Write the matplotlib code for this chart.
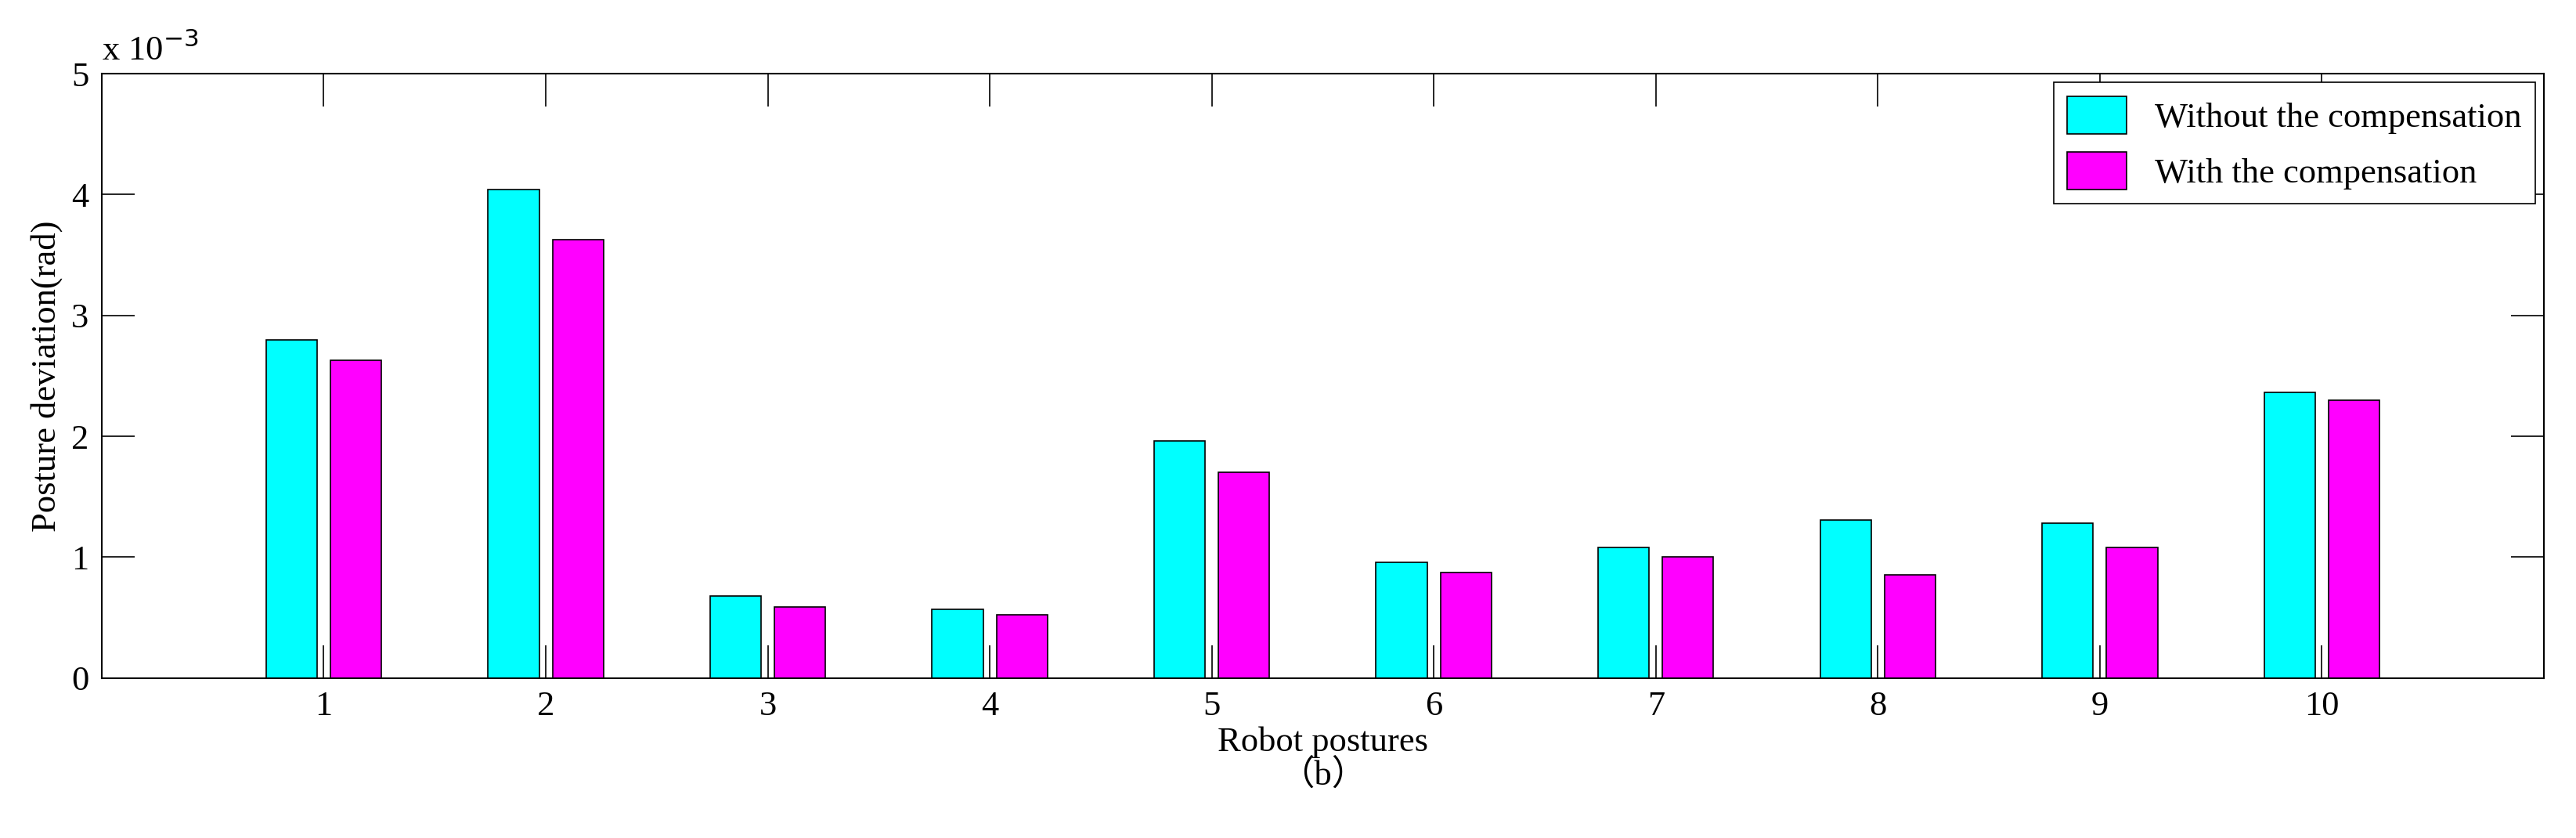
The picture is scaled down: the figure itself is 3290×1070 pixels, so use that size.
import matplotlib.pyplot as plt
import numpy as np

plt.rcParams['font.family'] = ['Liberation Serif', 'Noto Sans CJK SC', 'DejaVu Sans']

postures = np.arange(1, 11)
without_comp = np.array([2.80, 4.04, 0.68, 0.57, 1.96, 0.96, 1.08, 1.31, 1.28, 2.36])
with_comp = np.array([2.63, 3.63, 0.59, 0.52, 1.70, 0.87, 1.00, 0.85, 1.08, 2.30])

fig = plt.figure(figsize=(32.9, 10.7), dpi=100)
ax = fig.add_axes([0.0395, 0.191, 0.948, 0.721])

w = 0.23
ax.bar(postures - 0.145, without_comp, w, color="#00ffff", edgecolor="black", lw=1.2,
       label="Without the compensation")
ax.bar(postures + 0.145, with_comp, w, color="#ff00ff", edgecolor="black", lw=1.2,
       label="With the compensation")

ax.set_xlim(0, 11)
ax.set_ylim(0, 5)
ax.set_xticks(postures)
ax.set_yticks([0, 1, 2, 3, 4, 5])
ax.tick_params(direction="in", length=30, width=1.2, labelsize=32, top=True, right=True, pad=12)
for s in ax.spines.values():
    s.set_linewidth(1.5)

ax.set_xlabel("Robot postures\n（b）", fontsize=32, labelpad=4, linespacing=1.0)
ax.set_ylabel("Posture deviation(rad)", fontsize=32, labelpad=8)
ax.text(0.0, 1.01, r"x 10$^{-3}$", transform=ax.transAxes, fontsize=32, va="bottom")

leg = ax.legend(loc="upper right", fontsize=32, fancybox=False, edgecolor="black",
                handlelength=1.7, handleheight=1.3, borderaxespad=0.25, framealpha=1)
leg.get_frame().set_linewidth(1.2)

fig.savefig("out.png")
